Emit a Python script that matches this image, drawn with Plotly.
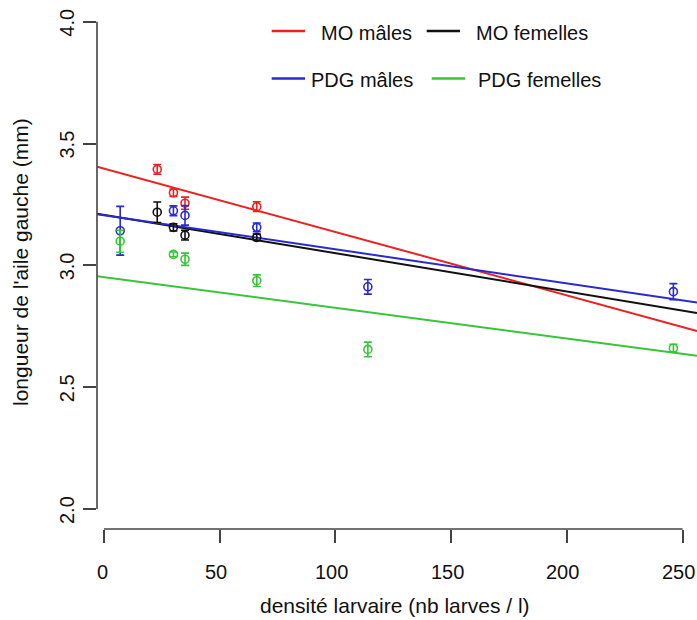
import plotly.graph_objects as go

# ---- data ----
density_mo = [23, 30, 35, 66]
density_pdg = [7, 30, 35, 66, 114, 246]

mo_males = [3.394, 3.298, 3.255, 3.241]
mo_males_err = [0.02, 0.015, 0.025, 0.02]
mo_femelles = [3.218, 3.156, 3.124, 3.115]
mo_femelles_err = [0.042, 0.015, 0.02, 0.013]
pdg_males = [3.142, 3.224, 3.205, 3.156, 2.912, 2.892]
pdg_males_err = [0.10, 0.02, 0.04, 0.018, 0.03, 0.033]
pdg_femelles = [3.099, 3.045, 3.025, 2.937, 2.655, 2.660]
pdg_femelles_err = [0.045, 0.01, 0.025, 0.024, 0.03, 0.016]

series_names = ["MO mâles", "MO femelles", "PDG mâles", "PDG femelles"]
series_colors = ["#ee2020", "#111111", "#2a2ad0", "#36c636"]
fit_intercepts = [3.397, 3.207, 3.206, 2.952]
fit_slopes = [-0.00260, -0.00157, -0.00140, -0.00126]

x_ticks = [0, 50, 100, 150, 200, 250]
x_tick_text = ["0", "50", "100", "150", "200", "250"]
y_ticks = [2.0, 2.5, 3.0, 3.5, 4.0]
y_tick_text = ["2.0", "2.5", "3.0", "3.5", "4.0"]

x_title = "densité larvaire (nb larves / l)"
y_title = "longueur de l'aile gauche (mm)"

# ---- layout geometry (window pixels; the page margin is removed below) ----
W, H = 697, 620
L, R, T, B = 97, 0, 0, 91
PW, PH = W - L - R, H - T - B
x_range = [-3.02, 256.2]
y_range = [1.918, 4.089]
FONT = "Liberation Sans, Arial, sans-serif"
TXT = "#111111"


def px(x):  # window pixel x -> paper x
    return (x - L) / PW


def py(y):  # window pixel y -> paper y
    return (H - B - y) / PH


fig = go.Figure()

xs = [x_range[0], x_range[1]]
# regression lines (drawn red, black, blue, green)
for name, col, a, b in zip(series_names, series_colors, fit_intercepts, fit_slopes):
    fig.add_trace(go.Scatter(x=xs, y=[a + b * v for v in xs], mode="lines",
                             line=dict(color=col, width=2), hoverinfo="skip"))

points = [
    (density_mo, mo_males, mo_males_err),
    (density_mo, mo_femelles, mo_femelles_err),
    (density_pdg, pdg_males, pdg_males_err),
    (density_pdg, pdg_femelles, pdg_femelles_err),
]
for (xv, yv, ev), name, col in zip(points, series_names, series_colors):
    fig.add_trace(go.Scatter(
        x=xv, y=yv, mode="markers", name=name,
        marker=dict(symbol="circle-open", size=8, color=col, line=dict(width=1.6, color=col)),
        error_y=dict(type="data", array=ev, visible=True, color=col, thickness=1.6, width=4),
        cliponaxis=False,
    ))

# R-style detached axis lines
axis_col = "#444444"
fig.add_shape(type="line", xref="x", yref="paper", x0=x_ticks[0], x1=x_ticks[-1], y0=0, y1=0,
              line=dict(color=axis_col, width=1.6))
fig.add_shape(type="line", xref="paper", yref="y", x0=0, x1=0, y0=y_ticks[0], y1=y_ticks[-1],
              line=dict(color=axis_col, width=1.6))

# tick labels placed on the axis scales
for v, t in zip(x_ticks, x_tick_text):
    fig.add_annotation(xref="x", yref="paper", x=v, y=py(572), text=t, showarrow=False,
                       xanchor="center", yanchor="middle", xshift=-4 if v else -1,
                       font=dict(size=20, color=TXT))
for v, t in zip(y_ticks, y_tick_text):
    fig.add_annotation(xref="paper", yref="y", x=px(67), y=v, text=t, showarrow=False,
                       textangle=-90, xanchor="center", yanchor="middle",
                       yshift=-1, font=dict(size=20, color=TXT))

# legend (drawn manually to match the R layout)
legend_items = [
    (series_names[0], series_colors[0], 271.7, 305, 319, 31),
    (series_names[1], series_colors[1], 426.7, 460, 474, 31),
    (series_names[2], series_colors[2], 271.7, 305, 309, 78.5),
    (series_names[3], series_colors[3], 431.7, 465, 476, 78.5),
]
for name, col, lx0, lx1, tx, ly in legend_items:
    fig.add_shape(type="line", xref="paper", yref="paper", x0=px(lx0), x1=px(lx1),
                  y0=py(ly), y1=py(ly), line=dict(color=col, width=2.5))
    fig.add_annotation(xref="paper", yref="paper", x=px(tx), y=py(ly + 1.5), text=name,
                       showarrow=False, xanchor="left", yanchor="middle",
                       font=dict(size=20, color=TXT))

# axis titles
fig.add_annotation(xref="paper", yref="paper", x=px(395), y=py(605), text=x_title,
                   showarrow=False, xanchor="center", yanchor="middle",
                   font=dict(size=21, color=TXT))
fig.add_annotation(xref="paper", yref="paper", x=px(20), y=py(262), text=y_title, textangle=-90,
                   showarrow=False, xanchor="center", yanchor="middle",
                   font=dict(size=21, color=TXT))

fig.update_layout(
    width=W, height=H, margin=dict(l=L, r=R, t=T, b=B, pad=0),
    plot_bgcolor="white", paper_bgcolor="white", showlegend=False,
    font=dict(family=FONT, size=20, color=TXT),
)
fig.update_xaxes(range=x_range, showgrid=False, zeroline=False, showline=False, automargin=False,
                 tickmode="array", tickvals=x_ticks, ticks="outside", ticklen=13,
                 tickwidth=1.6, tickcolor=axis_col, showticklabels=False)
fig.update_yaxes(range=y_range, showgrid=False, zeroline=False, showline=False, automargin=False,
                 tickmode="array", tickvals=y_ticks, ticks="outside", ticklen=13,
                 tickwidth=1.6, tickcolor=axis_col, showticklabels=False)

# remove the default page margin so the 697x620 figure fills the window exactly
fig.write_html(
    "out.html",
    config={"responsive": False, "displayModeBar": False},
    post_script="document.body.style.margin='0';document.documentElement.style.overflow='hidden';",
)
